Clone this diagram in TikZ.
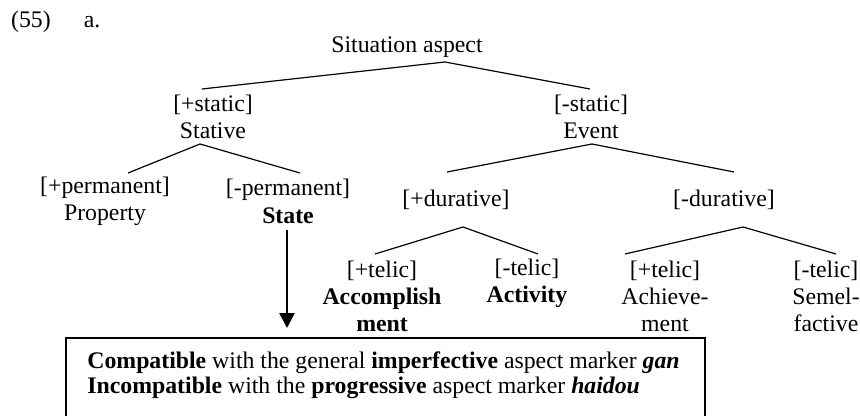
\documentclass[tikz,border=0pt]{standalone}
\usepackage{fontspec}
\setmainfont{Liberation Serif}
\usetikzlibrary{arrows.meta}
\begin{document}
\begin{tikzpicture}[x=0.50465pt,y=-0.50465pt,
  lbl/.style={inner sep=0pt,align=center,font=\fontsize{12}{13.8}\selectfont},
  boxtext/.style={inner sep=0pt,align=left,anchor=west,font=\fontsize{12}{12.6}\selectfont},
  branch/.style={line width=0.6pt},
  arr/.style={line width=1.3pt,-{Triangle[width=7.5pt,length=7.5pt]}},
  frame/.style={line width=0.6pt}]
\useasboundingbox (0,0) rectangle (860,416);

% numbering
\node[lbl] (num) at (31,22) {(55)};
\node[lbl] (sub) at (92,22) {a.};

% tree nodes
\node[lbl] (root) at (407,47) {Situation aspect};
\node[lbl] (stat) at (213,117) {[+static]\\Stative};
\node[lbl] (event) at (591,117) {[-static]\\Event};
\node[lbl] (permp) at (105,201.5) {[+permanent]\\Property};
\node[lbl] (permm) at (288,201.5) {[-permanent]\\\textbf{State}};
\node[lbl] (durp) at (456,200) {[+durative]};
\node[lbl] (durm) at (724,200) {[-durative]};
\node[lbl] (acc) at (382,296.5) {[+telic]\\\textbf{Accomplish}\\\textbf{ment}};
\node[lbl] (act) at (527,283) {[-telic]\\\textbf{Activity}};
\node[lbl] (ach) at (665,296.5) {[+telic]\\Achieve-\\ment};
\node[lbl] (sem) at (826,296.5) {[-telic]\\Semel-\\factive};

% branch points
\coordinate (rootA) at (445,62);
\coordinate (statT) at (202,89);
\coordinate (eventT) at (590,89);
\coordinate (statA) at (200,144);
\coordinate (permpT) at (128,173);
\coordinate (permmT) at (300,173);
\coordinate (eventA) at (592,144);
\coordinate (durpT) at (447,172);
\coordinate (durmT) at (734,172);
\coordinate (durpA) at (463,227);
\coordinate (accT) at (375,254);
\coordinate (actT) at (538,254);
\coordinate (durmA) at (743,227);
\coordinate (achT) at (625,254);
\coordinate (semT) at (836,254);

\draw[branch] (statT) -- (rootA) -- (eventT);
\draw[branch] (permpT) -- (statA) -- (permmT);
\draw[branch] (durpT) -- (eventA) -- (durmT);
\draw[branch] (accT) -- (durpA) -- (actT);
\draw[branch] (achT) -- (durmA) -- (semT);

% box
\coordinate (boxTL) at (66,338);
\coordinate (boxTR) at (705,338);
\coordinate (boxBL) at (66,416);
\coordinate (boxBR) at (705,416);
\draw[frame] (boxBL) -- (boxTL) -- (boxTR) -- (boxBR);
\node[boxtext] (note) at (87,375) {\textbf{Compatible} with the general \textbf{imperfective} aspect marker \textbf{\textit{gan}}\\
\textbf{Incompatible} with the \textbf{progressive} aspect marker \textbf{\textit{haidou}}};

% arrow
\coordinate (arrS) at (287,230);
\coordinate (arrE) at (287,328);
\draw[arr] (arrS) -- (arrE);
\end{tikzpicture}
\end{document}
